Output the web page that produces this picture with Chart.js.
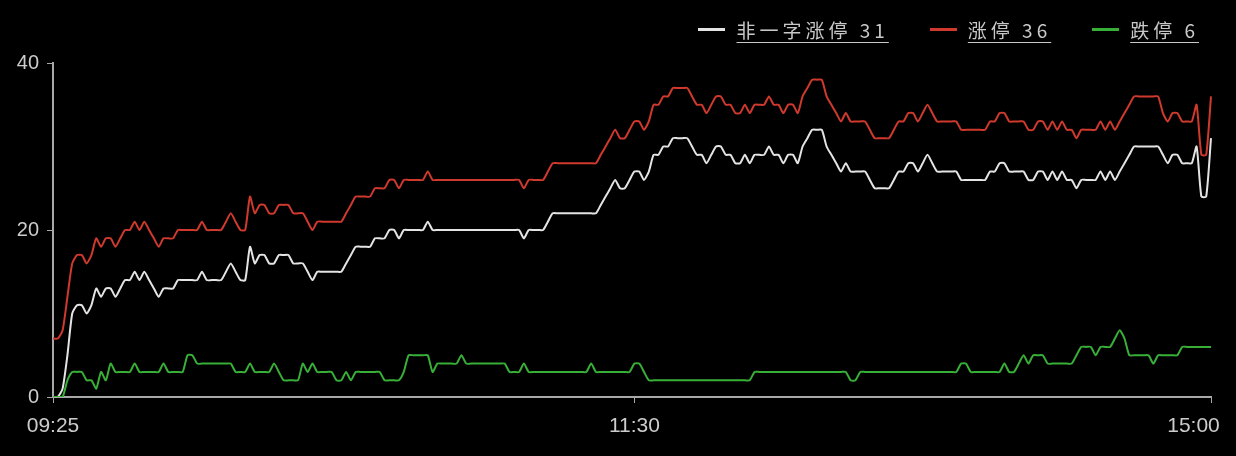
<!DOCTYPE html>
<html>
<head>
<meta charset="utf-8">
<script src="https://cdn.jsdelivr.net/npm/chart.js@4.4.1/dist/chart.umd.min.js"></script>
<style>
html, body { margin: 0; padding: 0; background: #000; }
#wrap { position: relative; width: 1236px; height: 456px; background: #000; }
#legend {
    position: absolute; top: 16px; right: 37px;
    display: flex; align-items: center; gap: 41px;
    font-family: "Noto Sans CJK SC", sans-serif; font-size: 19px;
    letter-spacing: 4px; color: #c8c8c8;
}
#legend .item { display: flex; align-items: center; }
#legend i { display: inline-block; width: 27px; height: 3px; margin-right: 11px; }
#legend u { text-underline-offset: 4px; text-decoration-thickness: 1px; }
</style>
</head>
<body>
<div id="wrap">
<canvas id="chart1"></canvas>
<div id="legend"></div>
</div>
<script>

/* DATA */

const seriesNames = ["非一字涨停", "涨停", "跌停"];

const seriesColors = ["#e4e4e4", "#d0392d", "#38b038"];

const tickLabels = ["09:25", "11:30", "15:00"];

// 非一字涨停
const nonYiZi = [
0,0,1,5,10,11,11,10,11,13,
12,13,13,12,13,14,14,15,14,15,
14,13,12,13,13,13,14,14,14,14,
14,15,14,14,14,14,15,16,15,14,
14,18,16,17,17,16,16,17,17,17,
16,16,16,15,14,15,15,15,15,15,
15,16,17,18,18,18,18,19,19,19,
20,20,19,20,20,20,20,20,21,20,
20,20,20,20,20,20,20,20,20,20,
20,20,20,20,20,20,20,20,19,20,
20,20,20,21,22,22,22,22,22,22,
22,22,22,22,23,24,25,26,25,25,
26,27,27,26,27,29,29,30,30,31,
31,31,31,30,29,29,28,29,30,30,
29,29,28,28,29,28,29,29,29,30,
29,29,28,29,29,28,30,31,32,32,
32,30,29,28,27,28,27,27,27,27,
26,25,25,25,25,26,27,27,28,28,
27,28,29,28,27,27,27,27,27,26,
26,26,26,26,26,27,27,28,28,27,
27,27,27,26,26,27,27,26,27,26,
27,26,26,25,26,26,26,26,27,26,
27,26,27,28,29,30,30,30,30,30,
30,29,28,29,29,28,28,28,30,24,
24,31
];

// 涨停
const limitUp = [
7,7,8,12,16,17,17,16,17,19,
18,19,19,18,19,20,20,21,20,21,
20,19,18,19,19,19,20,20,20,20,
20,21,20,20,20,20,21,22,21,20,
20,24,22,23,23,22,22,23,23,23,
22,22,22,21,20,21,21,21,21,21,
21,22,23,24,24,24,24,25,25,25,
26,26,25,26,26,26,26,26,27,26,
26,26,26,26,26,26,26,26,26,26,
26,26,26,26,26,26,26,26,25,26,
26,26,26,27,28,28,28,28,28,28,
28,28,28,28,29,30,31,32,31,31,
32,33,33,32,33,35,35,36,36,37,
37,37,37,36,35,35,34,35,36,36,
35,35,34,34,35,34,35,35,35,36,
35,35,34,35,35,34,36,37,38,38,
38,36,35,34,33,34,33,33,33,33,
32,31,31,31,31,32,33,33,34,34,
33,34,35,34,33,33,33,33,33,32,
32,32,32,32,32,33,33,34,34,33,
33,33,33,32,32,33,33,32,33,32,
33,32,32,31,32,32,32,32,33,32,
33,32,33,34,35,36,36,36,36,36,
36,34,33,34,34,33,33,33,35,29,
29,36
];

// 跌停
const limitDown = [
0,0,0,2,3,3,3,2,2,1,
3,2,4,3,3,3,3,4,3,3,
3,3,3,4,3,3,3,3,5,5,
4,4,4,4,4,4,4,4,3,3,
3,4,3,3,3,3,4,3,2,2,
2,2,4,3,4,3,3,3,3,2,
2,3,2,3,3,3,3,3,3,2,
2,2,2,3,5,5,5,5,5,3,
4,4,4,4,4,5,4,4,4,4,
4,4,4,4,4,3,3,3,4,3,
3,3,3,3,3,3,3,3,3,3,
3,3,4,3,3,3,3,3,3,3,
3,4,4,3,2,2,2,2,2,2,
2,2,2,2,2,2,2,2,2,2,
2,2,2,2,2,2,3,3,3,3,
3,3,3,3,3,3,3,3,3,3,
3,3,3,3,3,3,2,2,3,3,
3,3,3,3,3,3,3,3,3,3,
3,3,3,3,3,3,3,3,3,4,
4,3,3,3,3,3,3,3,4,3,
3,4,5,4,5,5,5,4,4,4,
4,4,4,5,6,6,6,5,6,6,
6,7,8,7,5,5,5,5,5,4,
5,5,5,5,5,6,6,6,6,6,
6,6
];

/* TIME LABELS: 09:25, 09:30-11:30, 13:01-15:00 */

function minuteLabels(fromMin, toMin){
    const out = [];
    for(let m = fromMin; m <= toMin; m++){
        const h = String(Math.floor(m / 60)).padStart(2, "0");
        const mm = String(m % 60).padStart(2, "0");
        out.push(h + ":" + mm);
    }
    return out;
}

const times = ["09:25"]
.concat(minuteLabels(9 * 60 + 30, 11 * 60 + 30))
.concat(minuteLabels(13 * 60 + 1, 15 * 60));

/* LEGEND */

const allSeries = [nonYiZi, limitUp, limitDown];

document.getElementById("legend").innerHTML =
seriesNames.map((name, i) => `
    <span class="item">
    <i style="background:${seriesColors[i]}"></i>
    <u>${name} ${allSeries[i][allSeries[i].length - 1]}</u>
    </span>
`).join("");

/* CHART */

const axisColor = "#a8a8a8";
const labelColor = "#cccccc";

new Chart(document.getElementById("chart1"), {
    type: 'line',
    data: {
        labels: times,
        datasets: allSeries.map((values, i) => ({
            label: seriesNames[i],
            data: values,
            borderColor: seriesColors[i],
            borderWidth: 2,
            pointRadius: 0,
            tension: 0.2,
            fill: false
        })).reverse()
    },
    options: {
        responsive: true,
        maintainAspectRatio: false,
        animation: false,
        layout: {
            padding: { top: 63, right: 25, left: 0, bottom: 0 }
        },
        plugins: {
            legend: { display: false },
            tooltip: { enabled: false }
        },
        scales: {
            x: {
                offset: false,
                afterFit: s => {
                    s.height = 59;
                    s.paddingLeft = 0;
                    s.paddingRight = 0;
                },
                afterBuildTicks: s => {
                    s.ticks = tickLabels.map(t => ({ value: times.indexOf(t) }));
                },
                ticks: {
                    autoSkip: false,
                    maxRotation: 0,
                    color: labelColor,
                    padding: 11,
                    font: { family: "Liberation Sans, Arial, sans-serif", size: 21 },
                    callback: function(value){
                        // last label sits inside the canvas edge
                        if(value === times.length - 1){
                            return times[value] + "      ";
                        }
                        return times[value];
                    }
                },
                grid: {
                    drawOnChartArea: false,
                    drawTicks: true,
                    tickLength: 6,
                    color: axisColor
                },
                border: { color: axisColor, width: 2 }
            },
            y: {
                min: 0,
                max: 40,
                afterFit: s => {
                    s.width = 53;
                    s.paddingTop = 0;
                    s.paddingBottom = 0;
                },
                ticks: {
                    stepSize: 20,
                    color: labelColor,
                    padding: 8,
                    font: { family: "Liberation Sans, Arial, sans-serif", size: 20 }
                },
                grid: {
                    drawOnChartArea: false,
                    drawTicks: true,
                    tickLength: 6,
                    color: axisColor
                },
                border: { color: axisColor, width: 2 }
            }
        }
    }
});

</script>
</body>
</html>
